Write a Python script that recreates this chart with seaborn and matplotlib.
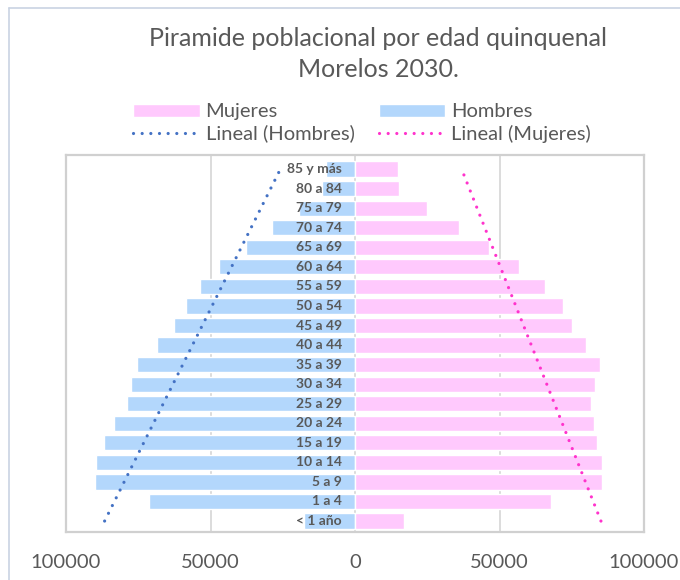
import numpy as np
import pandas as pd
import seaborn as sns
import matplotlib.pyplot as plt
from matplotlib.patches import Patch
from matplotlib.lines import Line2D

# age groups, bottom (youngest) to top
grupos = ['< 1 año', '1 a 4', '5 a 9', '10 a 14', '15 a 19', '20 a 24', '25 a 29',
          '30 a 34', '35 a 39', '40 a 44', '45 a 49', '50 a 54', '55 a 59',
          '60 a 64', '65 a 69', '70 a 74', '75 a 79', '80 a 84', '85 y más']
hombres = [17600, 71400, 90000, 89700, 87000, 83300, 79000, 77400, 75500, 68400,
           62500, 58500, 53800, 46900, 37800, 28600, 19300, 11500, 10100]
mujeres = [17000, 67900, 85400, 85300, 83900, 82600, 81600, 83000, 84700, 79900,
           75200, 71900, 65900, 56900, 46500, 36100, 24800, 15300, 15000]
ticks = [-100000, -50000, 0, 50000, 100000]

df = pd.DataFrame({'Edad': grupos, 'Hombres': [-h for h in hombres], 'Mujeres': mujeres})
orden = grupos[::-1]

sns.set_style('white')
plt.rcParams['font.family'] = ['Lato', 'DejaVu Sans']

fig, ax = plt.subplots(figsize=(6.8, 5.8), dpi=100)
fig.subplots_adjust(left=66/680, right=644/680, top=1-155/580, bottom=1-532/580)

c_h = '#B3D7FC'
c_m = '#FFC9FD'
sns.barplot(data=df, x='Hombres', y='Edad', order=orden, color=c_h, width=0.78,
            saturation=1, orient='h', ax=ax, zorder=2)
sns.barplot(data=df, x='Mujeres', y='Edad', order=orden, color=c_m, width=0.78,
            saturation=1, orient='h', ax=ax, zorder=2)

# excel style linear trendlines (x = category index)
n = len(grupos)
idx = np.arange(1, n + 1)
pos = n - idx  # seaborn position of each group
fh = np.polyval(np.polyfit(idx, -np.array(hombres), 1), idx)
fm = np.polyval(np.polyfit(idx, np.array(mujeres), 1), idx)
dots = (0, (0.01, 2.7))
ax.plot(fh, pos, color='#4472C4', lw=2.3, linestyle=dots, dash_capstyle='round', zorder=4)
ax.plot(fm, pos, color='#FF33CC', lw=2.3, linestyle=dots, dash_capstyle='round', zorder=4)

# category labels next to the axis
for g, p in zip(grupos, pos):
    ax.text(-4500, p, g, ha='right', va='center', fontsize=10, fontweight='bold',
            color='#595959', zorder=5)

ax.set_xlim(-100000, 100000)
ax.set_ylim(n - 0.44, -0.72)
ax.set_xticks(ticks)
ax.set_xticklabels([str(abs(t)) for t in ticks])
ax.tick_params(axis='x', length=0, pad=16, labelsize=14.5, labelcolor='#595959')
ax.set_yticks([])
ax.set_xlabel('')
ax.set_ylabel('')
ax.grid(axis='x', color='#D9D9D9', lw=1.3, zorder=0)
ax.set_axisbelow(True)
for s in ax.spines.values():
    s.set_visible(True)
    s.set_color('#D0D0D0')
    s.set_linewidth(1.6)

fig.text(378/680, 1 - 54/580, 'Piramide poblacional por edad quinquenal\nMorelos 2030.',
         ha='center', va='center', fontsize=18, color='#595959', linespacing=1.42)

handles = [Patch(facecolor=c_m, label='Mujeres'),
           Line2D([], [], color='#4472C4', lw=2.3, linestyle=dots, dash_capstyle='round',
                  label='Lineal (Hombres)'),
           Patch(facecolor=c_h, label='Hombres'),
           Line2D([], [], color='#FF33CC', lw=2.3, linestyle=dots, dash_capstyle='round',
                  label='Lineal (Mujeres)')]
fig.legend(handles=handles, ncol=2, loc='center', bbox_to_anchor=(362/680, 1 - 123/580),
           frameon=False, fontsize=14.5, labelcolor='#595959', handlelength=3.3,
           handleheight=0.6, handletextpad=0.3, columnspacing=1.2, labelspacing=0.2)

# outer chart border (left and top visible)
fig.add_artist(Line2D([9/680, 9/680], [0, 1 - 8/580], color='#C9D3E3', lw=1.2))
fig.add_artist(Line2D([9/680, 1], [1 - 8/580, 1 - 8/580], color='#C9D3E3', lw=1.2))

fig.savefig('out.png', dpi=100)
